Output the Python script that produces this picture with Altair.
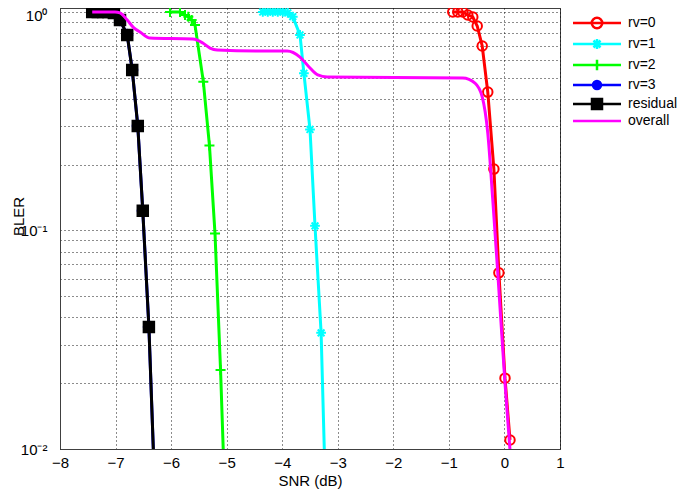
import altair as alt
import pandas as pd

# ---------------- data ----------------
series_names = ["rv=0", "rv=1", "rv=2", "rv=3", "residual", "overall"]
series_colors = ["#ff0000", "#00ffff", "#00ff00", "#0000ff", "#000000", "#ff00ff"]

rv0_snr = [-0.93, -0.84, -0.75, -0.66, -0.57, -0.49, -0.40, -0.30, -0.19, -0.10, 0.01, 0.10]
rv0_bler = [1.0, 1.0, 1.0, 0.969, 0.949, 0.863, 0.699, 0.43, 0.191, 0.064, 0.0211, 0.011]

rv1_snr = [-4.35, -4.26, -4.17, -4.08, -3.99, -3.90, -3.81, -3.68, -3.61, -3.50, -3.41, -3.30, -3.20]
rv1_bler = [1.0, 1.0, 1.0, 1.0, 1.0, 0.99, 0.952, 0.785, 0.524, 0.29, 0.105, 0.034, 0.004]

rv2_snr = [-6.02, -5.84, -5.75, -5.69, -5.63, -5.57, -5.42, -5.31, -5.21, -5.11, -5.0]
rv2_bler = [1.0, 1.0, 0.969, 0.952, 0.919, 0.872, 0.48, 0.245, 0.097, 0.023, 0.0034]

res_snr = [-7.42, -7.32, -7.22, -7.13, -7.03, -6.92, -6.79, -6.70, -6.60, -6.51, -6.40, -6.30]
res_bler = [1.0, 1.0, 1.0, 1.0, 0.99, 0.919, 0.785, 0.543, 0.301, 0.123, 0.0362, 0.0072]

# rv=3 lies exactly under the residual curve
rv3_snr = list(res_snr)
rv3_bler = list(res_bler)

overall_snr = [-7.42, -7.01, -6.92, -6.79, -6.67, -6.56, -6.38, -5.61, -5.43, -5.30, -5.17,
               -4.40, -3.91, -3.68, -3.50, -3.36, -3.19, -0.75, -0.53, -0.40, -0.30, -0.21,
               -0.12, 0.01, 0.10]
overall_bler = [1.0, 1.0, 0.99, 0.919, 0.845, 0.81, 0.76, 0.752, 0.721, 0.684, 0.67,
                0.663, 0.663, 0.622, 0.554, 0.515, 0.504, 0.499, 0.473, 0.409, 0.279, 0.138,
                0.064, 0.020, 0.0099]

x_ticks = [-8, -7, -6, -5, -4, -3, -2, -1, 0, 1]
y_grid = [round(k * 10.0 ** e, 4) for e in (-2, -1) for k in range(1, 10)] + [1.0]

rows = []
for name, xs, ys in zip(series_names,
                        [rv0_snr, rv1_snr, rv2_snr, rv3_snr, res_snr, overall_snr],
                        [rv0_bler, rv1_bler, rv2_bler, rv3_bler, res_bler, overall_bler]):
    for xv, yv in zip(xs, ys):
        rows.append({"snr": xv, "bler": yv, "series": name})
df = pd.DataFrame(rows)

# ---------------- styles ----------------
FONT = "Liberation Sans"
marker_names = series_names[:5]
star = "M-1,0H1M0,-1V1M-0.7,-0.7L0.7,0.7M-0.7,0.7L0.7,-0.7"
plus = "M-1,0H1M0,-1V1"
marker_shapes = ["circle", star, plus, "circle", "square"]
marker_fills = ["transparent", "transparent", "transparent", "#0000ff", "#000000"]
marker_sizes = [90, 110, 121, 36, 100]
marker_strokes = [2, 2, 2.5, 1, 1]

# legend symbols: unit = 5 px (symbolSize 100); a 48 px line with the marker in the middle
LINE = "M-4.8,0H4.8"
legend_paths = {
    "rv=0": LINE + "M1.05,0A1.05,1.05,0,1,1,-1.05,0A1.05,1.05,0,1,1,1.05,0Z",
    "rv=1": LINE + "M0,-1V1M-0.7,-0.7L0.7,0.7M-0.7,0.7L0.7,-0.7",
    "rv=2": LINE + "M0,-1.05V1.05",
    "rv=3": LINE + "M0.8,0A0.8,0.8,0,1,1,-0.8,0A0.8,0.8,0,1,1,0.8,0Z",
    "residual": LINE + "M-1,-1H1V1H-1Z",
    "overall": LINE,
}
shape_expr = " : ".join(f"datum.value === '{k}' ? '{v}'" for k, v in legend_paths.items()) + f" : '{LINE}'"
fill_expr = "datum.value === 'residual' ? '#000000' : datum.value === 'rv=3' ? '#0000ff' : 'transparent'"

color_scale = alt.Scale(domain=series_names, range=series_colors)
x_scale = alt.Scale(domain=[-8, 1], nice=False)
y_scale = alt.Scale(type="log", domain=[0.01, 1.043], nice=False)

x_enc = alt.X("snr:Q", scale=x_scale, axis=alt.Axis(
    values=x_ticks, title="SNR (dB)", grid=True, ticks=False, labelPadding=6,
    labelFlush=False, labelOverlap=False, titlePadding=3))
y_enc = alt.Y("bler:Q", scale=y_scale, axis=alt.Axis(
    values=y_grid, title="BLER", grid=True, ticks=False, labelPadding=13,
    labelFlush=False, labelOverlap=False,
    labelOffset={"expr": "datum.value == 1 ? 4 : 0"},
    labelExpr="datum.value == 1 ? '10⁰' : datum.value == 0.1 ? '10⁻¹' : datum.value == 0.01 ? '10⁻²' : ''",
    titleX=-34, titleY=208))

legend = alt.Legend(
    title=None, orient="none", legendX=505, legendY=-1, padding=9,
    symbolSize=100, symbolStrokeWidth=2.5, symbolOffset=16, labelOffset=24, rowPadding=0,
    labelFont=FONT, labelFontSize=14, labelColor="#000", labelLimit=200,
    symbolType={"expr": shape_expr},
    symbolFillColor={"expr": fill_expr},
    symbolOpacity=1,
)

base = alt.Chart(df)

lines = base.transform_filter(alt.datum.series != "overall").mark_line(
    strokeWidth=3, clip=True).encode(
    x=x_enc, y=y_enc,
    color=alt.Color("series:N", scale=color_scale, legend=legend),
    detail="series:N",
)

points = base.transform_filter(
    (alt.datum.series != "overall") & (alt.datum.bler >= 0.01)
).mark_point(filled=False, opacity=1).encode(
    x=x_enc, y=y_enc,
    color=alt.Color("series:N", scale=color_scale, legend=None),
    shape=alt.Shape("series:N", scale=alt.Scale(domain=marker_names, range=marker_shapes), legend=None),
    fill=alt.Fill("series:N", scale=alt.Scale(domain=marker_names, range=marker_fills), legend=None),
    size=alt.Size("series:N", scale=alt.Scale(domain=marker_names, range=marker_sizes), legend=None),
    strokeWidth=alt.StrokeWidth("series:N", scale=alt.Scale(domain=marker_names, range=marker_strokes), legend=None),
)

overall = base.transform_filter(alt.datum.series == "overall").mark_line(
    strokeWidth=3, clip=True, interpolate="monotone").encode(
    x=x_enc, y=y_enc,
    color=alt.Color("series:N", scale=color_scale, legend=None),
)

chart = alt.layer(lines, points, overall).properties(
    width=500, height=441,
    padding={"left": 52, "top": 0, "right": 117, "bottom": 40},
    autosize=alt.AutoSizeParams(type="none"),
).configure(font=FONT).configure_view(
    stroke="#404040", strokeWidth=1
).configure_axis(
    gridColor="#000000", gridDash=[1, 3], gridOpacity=0.9, gridWidth=1,
    domainColor="#404040", domainWidth=1,
    labelFont=FONT, labelFontSize=15, labelColor="#000",
    titleFont=FONT, titleFontSize=15, titleFontWeight="normal", titleColor="#000",
)

chart.save("out.html", embed_options={"renderer": "svg", "actions": False})
